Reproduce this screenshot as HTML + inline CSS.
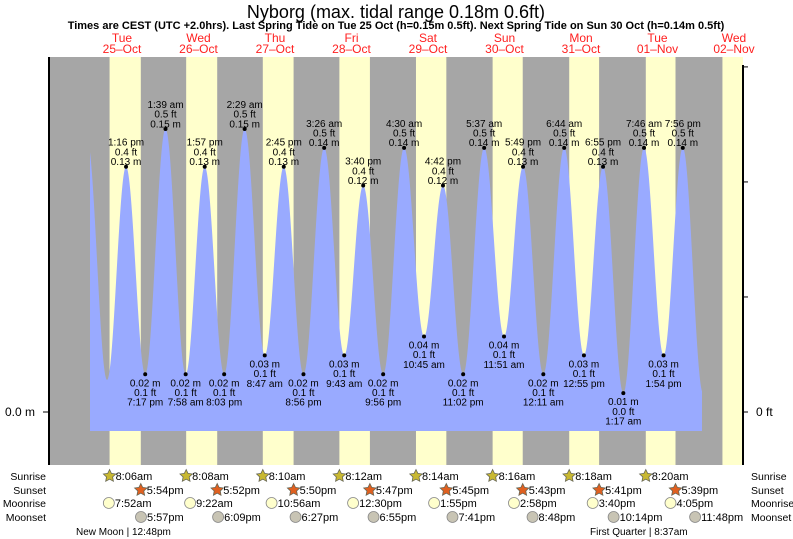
<!DOCTYPE html>
<html><head><meta charset="utf-8"><style>
body{margin:0;background:#fff;}
svg{display:block;font-family:"Liberation Sans",sans-serif;}
</style></head><body>
<svg id="c" width="793" height="539" viewBox="0 0 793 539">
<text x="396" y="18" font-size="18" text-anchor="middle">Nyborg (max. tidal range 0.18m 0.6ft)</text>
<text x="396" y="29" font-size="11" font-weight="bold" text-anchor="middle">Times are CEST (UTC +2.0hrs). Last Spring Tide on Tue 25 Oct (h=0.15m 0.5ft). Next Spring Tide on Sun 30 Oct (h=0.14m 0.5ft)</text>
<g id="bg"></g><g id="tide"></g><g id="labels"></g><g id="axes"></g><g id="bottom"></g>
</svg>
<script>
const dayNames=["Tue","Wed","Thu","Fri","Sat","Sun","Mon","Tue","Wed"];
const dayDates=["25–Oct","26–Oct","27–Oct","28–Oct","29–Oct","30–Oct","31–Oct","01–Nov","02–Nov"];
const sunrise=[8.10,8.13,8.17,8.20,8.23,8.27,8.30,8.33,8.37];
const sunset=[17.90,17.87,17.83,17.78,17.75,17.72,17.68,17.65,17.62];
const sunriseLbl=["8:06am","8:08am","8:10am","8:12am","8:14am","8:16am","8:18am","8:20am"];
const sunsetLbl=["5:54pm","5:52pm","5:50pm","5:47pm","5:45pm","5:43pm","5:41pm","5:39pm"];
const moonrise=[7.87,9.37,10.93,12.5,13.92,14.97,15.67,16.08];
const moonriseLbl=["7:52am","9:22am","10:56am","12:30pm","1:55pm","2:58pm","3:40pm","4:05pm"];
const moonset=[17.95,18.15,18.45,18.92,19.68,20.8,22.23,23.8];
const moonsetLbl=["5:57pm","6:09pm","6:27pm","6:55pm","7:41pm","8:48pm","10:14pm","11:48pm"];
// tide extremes: hours since 25-Oct 00:00, height (m)
const tideHours=[1.0,7.3,13.27,19.28,25.65,31.97,37.95,44.05,50.48,56.78,62.75,68.93,75.43,81.72,87.67,93.93,100.5,106.75,112.7,119.03,125.62,131.85,137.82,144.18,150.73,156.92,162.92,169.28,175.77,181.9,187.93,194.3];
const tideHeights=[0.145,0.017,0.13,0.02,0.15,0.02,0.13,0.02,0.15,0.03,0.13,0.02,0.14,0.03,0.12,0.02,0.14,0.04,0.12,0.02,0.14,0.04,0.13,0.02,0.14,0.03,0.13,0.01,0.14,0.03,0.14,0.01];
const tideLabeled=[false,false,true,true,true,true,true,true,true,true,true,true,true,true,true,true,true,true,true,true,true,true,true,true,true,true,true,true,true,true,true,false];
const tideTimes=["","","1:16 pm","7:17 pm","1:39 am","7:58 am","1:57 pm","8:03 pm","2:29 am","8:47 am","2:45 pm","8:56 pm","3:26 am","9:43 am","3:40 pm","9:56 pm","4:30 am","10:45 am","4:42 pm","11:02 pm","5:37 am","11:51 am","5:49 pm","12:11 am","6:44 am","12:55 pm","6:55 pm","1:17 am","7:46 am","1:54 pm","7:56 pm",""];
const tideFt=["","","0.4","0.1","0.5","0.1","0.4","0.1","0.5","0.1","0.4","0.1","0.5","0.1","0.4","0.1","0.5","0.1","0.4","0.1","0.5","0.1","0.4","0.1","0.5","0.1","0.4","0.0","0.5","0.1","0.5",""];
const ftTicks=[0,0.2,0.4,0.6];

const NS="http://www.w3.org/2000/svg";
const X0=83.75,DAY=76.5,Y0=412,PXM=1887;
const x=h=>X0+h/24*DAY, y=m=>Y0-m*PXM;
const PL=49,PR=743,PT=57,PB=465;
function mk(tag,attrs,parent,txt){const e=document.createElementNS(NS,tag);for(const k in attrs)e.setAttribute(k,attrs[k]);if(txt!==undefined)e.textContent=txt;parent.appendChild(e);return e;}
const bg=document.getElementById('bg'),tide=document.getElementById('tide'),lab=document.getElementById('labels'),ax=document.getElementById('axes'),bot=document.getElementById('bottom');
let r=mk('rect',{x:PL,y:PT,width:PR-PL,height:PB-PT,fill:'#a6a6a6'},bg);


for(let d=0;d<9;d++){
  const a=Math.max(PL,x(d*24+sunrise[d])),b=Math.min(PR,x(d*24+sunset[d]));
  if(b>a){const e=mk('rect',{x:a,y:PT,width:b-a,height:PB-PT,fill:'#ffffcc'},bg);
  
  }
  const cx=x(d*24+12);
  const t=mk('text',{x:cx,y:42,'font-size':12,fill:'#ff2020','text-anchor':'middle'},lab,dayNames[d]);
  
  
  const t2=mk('text',{x:cx,y:53,'font-size':12,fill:'#ff2020','text-anchor':'middle'},lab,dayDates[d]);
  
  
}
const xs=90,xe=702;
function hAt(h){for(let i=0;i<tideHours.length-1;i++){if(h>=tideHours[i]&&h<=tideHours[i+1]){const f=(h-tideHours[i])/(tideHours[i+1]-tideHours[i]);return tideHeights[i]+(tideHeights[i+1]-tideHeights[i])*(1-Math.cos(Math.PI*f))/2;}}return tideHeights[tideHeights.length-1];}
let d=`M${xs},431`;
for(let px=xs;px<=xe;px+=0.5){const h=(px-X0)/DAY*24;d+=` L${px},${y(hAt(h)).toFixed(2)}`;}
d+=` L${xe},431 Z`;
const p=mk('path',{d:d,fill:'#99aaff'},tide);


for(let i=0;i<tideHours.length;i++){
  if(!tideLabeled[i])continue;
  const px=x(tideHours[i]),py=y(tideHeights[i]);
  const c=mk('circle',{cx:px,cy:py,r:2,fill:'#000'},tide);
  
  
  const high=i>0&&tideHeights[i]>tideHeights[i-1];
  const lines=high?[tideTimes[i],tideFt[i]+' ft',tideHeights[i].toFixed(2)+' m']:[tideHeights[i].toFixed(2)+' m',tideFt[i]+' ft',tideTimes[i]];
  const base=high?py-21:py+12;
  lines.forEach((s,k)=>{const t=mk('text',{x:px,y:base+k*9.7,'font-size':10,'text-anchor':'middle',fill:'#000'},lab,s);
  
  });
}
let l=mk('line',{x1:PL,y1:PT,x2:PL,y2:PB,stroke:'#000','stroke-width':2},ax);


mk('line',{x1:PL-6,y1:Y0,x2:PL,y2:Y0,stroke:'#000'},ax);
let t=mk('text',{x:35,y:Y0+4,'font-size':12,'text-anchor':'end'},ax,'0.0 m');


l=mk('line',{x1:PR,y1:PT+8,x2:PR,y2:PB,stroke:'#000','stroke-width':2},ax);


ftTicks.forEach(f=>{const yy=y(f*0.3048);mk('line',{x1:PR,y1:yy,x2:PR+5,y2:yy,stroke:'#000'},ax);});
t=mk('text',{x:756,y:Y0+4,'font-size':12},ax,'0 ft');


const rows=[["Sunrise",476],["Sunset",490],["Moonrise",503],["Moonset",517]];
rows.forEach(([n,yy])=>{
  let a=mk('text',{x:46,y:yy+4,'font-size':10.5,'text-anchor':'end'},bot,n);
  
  
  let b=mk('text',{x:751,y:yy+4,'font-size':10.5},bot,n);
  
  
});
function star(cx,cy,fill){let pts=[];for(let k=0;k<10;k++){const rr=k%2?3.2:6.5,a=-Math.PI/2+k*Math.PI/5;pts.push((cx+rr*Math.cos(a)).toFixed(1)+','+(cy+rr*Math.sin(a)).toFixed(1));}return mk('polygon',{points:pts.join(' '),fill:fill,stroke:'#665','stroke-width':0.8},bot);}
function row(hours,lbls,yy,kind){
  for(let i=0;i<hours.length;i++){
    const cx=x(i*24+hours[i]);let ic;
    if(kind==='sunrise')ic=star(cx,yy,'#c8b832');
    else if(kind==='sunset')ic=star(cx,yy,'#e06020');
    else ic=mk('circle',{cx:cx,cy:yy,r:5.5,fill:kind==='moonrise'?'#ffffcc':'#c8c4b4',stroke:'#888','stroke-width':0.8},bot);
    
    
    const tx=mk('text',{x:cx+6,y:yy+4,'font-size':11},bot,lbls[i]);
    
    
  }
}
row(sunrise.slice(0,8),sunriseLbl,476,'sunrise');
row(sunset.slice(0,8),sunsetLbl,490,'sunset');
row(moonrise,moonriseLbl,503,'moonrise');
row(moonset,moonsetLbl,517,'moonset');
t=mk('text',{x:76,y:535,'font-size':10},bot,'New Moon | 12:48pm');


t=mk('text',{x:590,y:535,'font-size':10},bot,'First Quarter | 8:37am');


</script>
</body></html>
